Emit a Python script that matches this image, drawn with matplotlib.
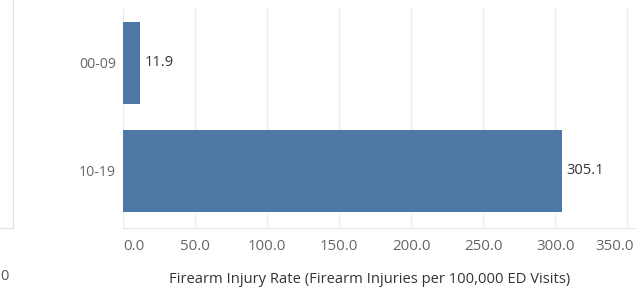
import matplotlib.pyplot as plt
import matplotlib.transforms as mtransforms
import numpy as np

# Data
age_groups = ['00-09', '10-19']
rates = [11.9, 305.1]
xticks = [0, 50, 100, 150, 200, 250, 300, 350]

plt.rcParams['font.family'] = ['Open Sans', 'DejaVu Sans']

fig = plt.figure(figsize=(6.41, 2.96), dpi=100)
fig.patch.set_facecolor('white')

# Cut-off neighbour panel on the left
ax0 = fig.add_axes([-0.1, 1 - 228 / 296, 0.1 + 13 / 641, 228 / 296])
ax0.set_xticks([])
ax0.set_yticks([])
for s in ['top', 'left']:
    ax0.spines[s].set_visible(False)
for s in ['right', 'bottom']:
    ax0.spines[s].set_color('#e0e0e0')
    ax0.spines[s].set_linewidth(0.8)
fig.text(0.0, 1 - 277 / 296, '0', fontsize=10.5, color='#555555', ha='left', va='center')

# Main bar chart
ax = fig.add_axes([123 / 641, 1 - 228 / 296, 512 / 641, 220 / 296])
y = np.arange(len(age_groups))
bars = ax.barh(y, rates, height=0.76, color='#4e79a7')
for yi, v in zip(y, rates):
    ax.annotate('%.1f' % v, xy=(v, yi), xytext=(3, 0), textcoords='offset points',
                va='center', ha='left', fontsize=10.5, color='#333333')

ax.set_xlim(0, 355.5)
ax.set_ylim(1.528, -0.509)
ax.set_yticks(y)
ax.set_yticklabels(age_groups)
ax.set_xticks(xticks)
ax.set_xticklabels(['%.1f' % t for t in xticks])
ax.tick_params(axis='both', length=0, labelcolor='#666666')
ax.tick_params(axis='x', labelsize=10.8, pad=8)
ax.tick_params(axis='y', labelsize=10.2, pad=5)
# first / last tick labels kept inside the pane
xl = ax.get_xticklabels()
xl[0].set_ha('left')
xl[-1].set_ha('right')
xl[-1].set_transform(xl[-1].get_transform() +
                     mtransforms.ScaledTranslation(7 / 100, 0, fig.dpi_scale_trans))
ax.xaxis.grid(True, color='#ececec', linewidth=0.8)
ax.set_axisbelow(True)
for s in ['top', 'right', 'left']:
    ax.spines[s].set_visible(False)
ax.spines['bottom'].set_color('#e6e6e6')
ax.set_xlabel('Firearm Injury Rate (Firearm Injuries per 100,000 ED Visits)',
              fontsize=10.6, color='#333333')
ax.xaxis.set_label_coords(0.482, -0.2)

fig.savefig('out.png', dpi=100, facecolor=fig.get_facecolor())
